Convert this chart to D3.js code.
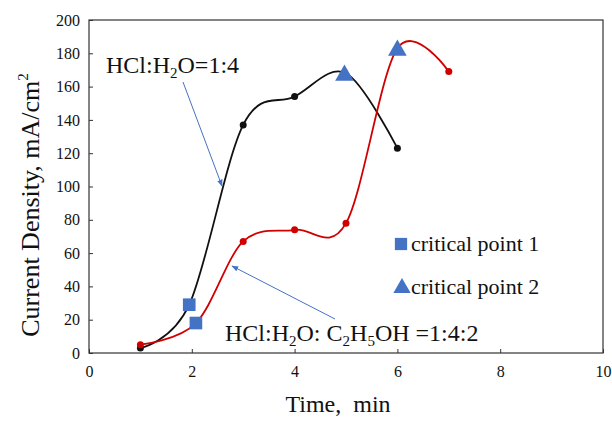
<!DOCTYPE html>
<html>
<head>
<meta charset="utf-8">
<script src="https://cdn.jsdelivr.net/npm/d3@7"></script>
<style>
  body { margin: 0; background: #fff; }
  svg text { font-family: "Liberation Serif", "DejaVu Serif", serif; fill: #111; }
</style>
</head>
<body>
<svg id="chart" width="612" height="424"></svg>
<script>
// series
const blackX = [1, 1.95, 3, 4, 5, 6];
const blackY = [3, 29, 137, 154, 168, 123];
const redX = [1, 2.08, 3, 4, 5, 6, 7];
const redY = [5, 18, 67, 74, 78, 183, 169];

// plain dots (not critical points)
const blackDotsX = [1, 3, 4, 6];
const blackDotsY = [3, 137, 154, 123];
const redDotsX = [1, 3, 4, 5, 7];
const redDotsY = [5, 67, 74, 78, 169];

// critical points
const crit1X = [1.95, 2.08];
const crit1Y = [29, 18];
const crit2X = [4.97, 6];
const crit2Y = [168, 183];

const xTicks = [0, 2, 4, 6, 8, 10];
const yTicks = [0, 20, 40, 60, 80, 100, 120, 140, 160, 180, 200];

const width = 612, height = 424;
const margin = { top: 20, right: 9, bottom: 71, left: 89 };
const blue = '#4472c4';
const serif = '"Liberation Serif", "DejaVu Serif", serif';

const svg = d3.select('#chart').attr('font-family', serif);

const x = d3.scaleLinear().domain([0, 10]).range([margin.left, width - margin.right]);
const y = d3.scaleLinear().domain([0, 200]).range([height - margin.bottom, margin.top]);

// frame
svg.append('rect')
    .attr('x', x(0)).attr('y', y(200))
    .attr('width', x(10) - x(0)).attr('height', y(0) - y(200))
    .attr('fill', 'none').attr('stroke', '#333').attr('stroke-width', 1.2);

// axes with inward ticks
const xAxis = svg.append('g')
    .attr('transform', `translate(0,${y(0)})`)
    .call(d3.axisBottom(x).tickValues(xTicks).tickSize(-4).tickPadding(13).tickFormat(d3.format('d')));
const yAxis = svg.append('g')
    .attr('transform', `translate(${x(0)},0)`)
    .call(d3.axisLeft(y).tickValues(yTicks).tickSize(-4).tickPadding(9).tickFormat(d3.format('d')));

[xAxis, yAxis].forEach(g => {
    g.attr('font-family', serif).attr('font-size', 16);
    g.select('.domain').remove();
    g.selectAll('line').attr('stroke', '#333');
    g.selectAll('text').style('font-family', serif).style('font-size', '16px').attr('fill', '#111');
});

// axis titles
svg.append('text')
    .attr('x', 338).attr('y', 412)
    .attr('text-anchor', 'middle').style('font-size', '24px')
    .attr('xml:space', 'preserve')
    .text('Time,  min');

const yTitle = svg.append('text')
    .attr('transform', `translate(39,205) rotate(-90)`)
    .attr('text-anchor', 'middle').style('font-size', '26px');
yTitle.append('tspan').text('Current Density, mA/cm');
yTitle.append('tspan').attr('dy', -11).style('font-size', '15px').text('2');

// smoothed lines
const line = d3.line().x(d => x(d[0])).y(d => y(d[1])).curve(d3.curveCatmullRom.alpha(0));
svg.append('path').datum(d3.zip(blackX, blackY))
    .attr('d', line).attr('fill', 'none').attr('stroke', '#111').attr('stroke-width', 1.8);
svg.append('path').datum(d3.zip(redX, redY))
    .attr('d', line).attr('fill', 'none').attr('stroke', '#d00000').attr('stroke-width', 1.8);

svg.append('g').selectAll('circle').data(d3.zip(blackDotsX, blackDotsY)).join('circle')
    .attr('cx', d => x(d[0])).attr('cy', d => y(d[1])).attr('r', 3.5).attr('fill', '#111');
svg.append('g').selectAll('circle').data(d3.zip(redDotsX, redDotsY)).join('circle')
    .attr('cx', d => x(d[0])).attr('cy', d => y(d[1])).attr('r', 3.5).attr('fill', '#d00000');

// critical point markers
const sq = d3.symbol().type(d3.symbolSquare).size(160);
const tri = d3.symbol().type(d3.symbolTriangle).size(150);
svg.append('g').selectAll('path').data(d3.zip(crit1X, crit1Y)).join('path')
    .attr('transform', d => `translate(${x(d[0])},${y(d[1])})`)
    .attr('d', sq).attr('fill', blue);
svg.append('g').selectAll('path').data(d3.zip(crit2X, crit2Y)).join('path')
    .attr('transform', d => `translate(${x(d[0])},${y(d[1]) + 2})`)
    .attr('d', tri).attr('fill', blue);

// legend
const legend = svg.append('g');
legend.append('path').attr('transform', 'translate(401,244)')
    .attr('d', d3.symbol().type(d3.symbolSquare).size(150)).attr('fill', blue);
legend.append('text').attr('x', 411).attr('y', 251).style('font-size', '22px').text('critical point 1');
legend.append('path').attr('transform', 'translate(402,288)')
    .attr('d', d3.symbol().type(d3.symbolTriangle).size(130)).attr('fill', blue);
legend.append('text').attr('x', 411).attr('y', 294).style('font-size', '22px').text('critical point 2');

// annotations with arrows
const defs = svg.append('defs');
defs.append('marker').attr('id', 'arrow')
    .attr('viewBox', '0 0 10 10').attr('refX', 9).attr('refY', 5)
    .attr('markerWidth', 7).attr('markerHeight', 7).attr('orient', 'auto')
    .append('path').attr('d', 'M0,1 L10,5 L0,9 Z').attr('fill', blue);

svg.append('line').attr('x1', 183).attr('y1', 82).attr('x2', 222).attr('y2', 186)
    .attr('stroke', blue).attr('stroke-width', 1).attr('marker-end', 'url(#arrow)');
svg.append('line').attr('x1', 335).attr('y1', 319).attr('x2', 232).attr('y2', 266)
    .attr('stroke', blue).attr('stroke-width', 1).attr('marker-end', 'url(#arrow)');

const a1 = svg.append('text').attr('x', 106).attr('y', 73).style('font-size', '24px');
a1.append('tspan').text('HCl:H');
a1.append('tspan').attr('dy', 5).style('font-size', '15px').text('2');
a1.append('tspan').attr('dy', -5).text('O=1:4');

const a2 = svg.append('text').attr('x', 225).attr('y', 341).style('font-size', '24px');
a2.append('tspan').text('HCl:H');
a2.append('tspan').attr('dy', 5).style('font-size', '15px').text('2');
a2.append('tspan').attr('dy', -5).text('O: C');
a2.append('tspan').attr('dy', 5).style('font-size', '15px').text('2');
a2.append('tspan').attr('dy', -5).text('H');
a2.append('tspan').attr('dy', 5).style('font-size', '15px').text('5');
a2.append('tspan').attr('dy', -5).attr('xml:space', 'preserve').text('OH =1:4:2');
</script>
</body>
</html>
